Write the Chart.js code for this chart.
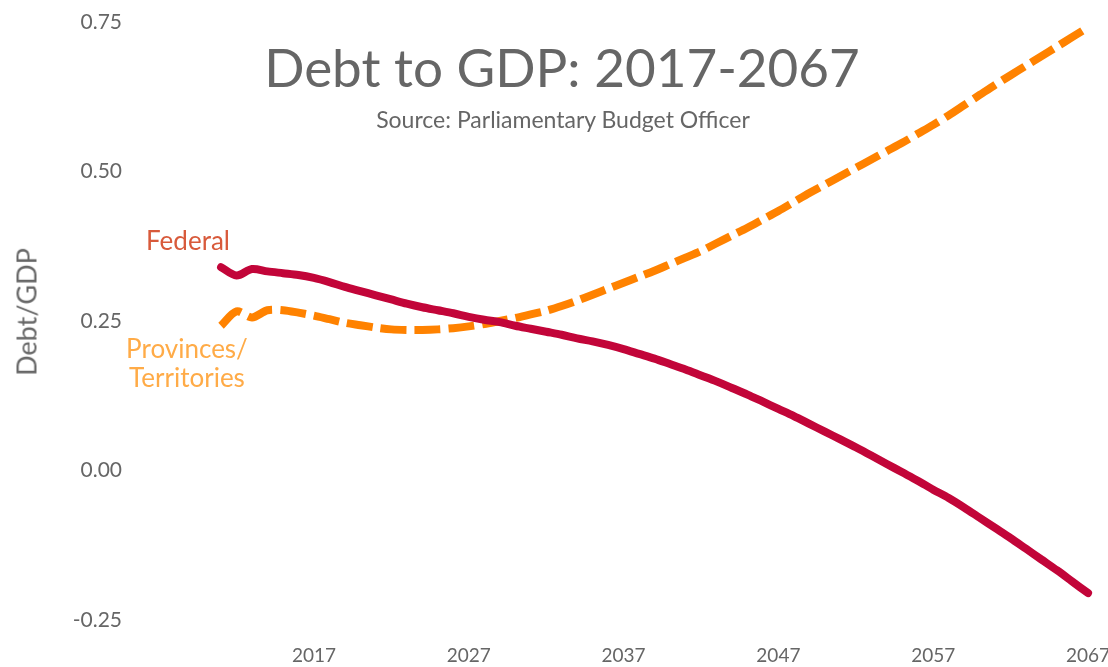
<!DOCTYPE html>
<html>
<head>
<meta charset="utf-8">
<script src="https://cdn.jsdelivr.net/npm/chart.js@4.4.1/dist/chart.umd.min.js"></script>
<style>
  html, body { margin:0; padding:0; background:#fff; }
  #wrap { position:relative; width:1108px; height:667px; font-family:Lato, 'Open Sans', sans-serif; }
  #wrap canvas { position:absolute; left:0; top:0; }
  .lbl { position:absolute; white-space:nowrap; transform:translate(-50%, -50%); line-height:1; }
  #title    { left:562px; top:66px;  font-size:53px; color:#666; }
  #subtitle { left:563px; top:119px; font-size:23px; color:#666; }
  #fedLbl   { left:188px; top:240px; font-size:26px; color:#d85a3b; }
  #provLbl  { left:187px; top:363px; font-size:26px; color:#ffab47; text-align:center; line-height:29px; }
  #yTitle   { left:26px;  top:312px; font-size:27px; color:#666; transform:translate(-50%, -50%) rotate(-90deg); }
</style>
</head>
<body>
<div id="wrap">
  <canvas id="chart" width="1108" height="667"></canvas>
  <div class="lbl" id="title">Debt to GDP: 2017-2067</div>
  <div class="lbl" id="subtitle">Source: Parliamentary Budget Officer</div>
  <div class="lbl" id="fedLbl">Federal</div>
  <div class="lbl" id="provLbl">Provinces/<br>Territories</div>
  <div class="lbl" id="yTitle">Debt/GDP</div>
</div>
<script>
'use strict';

// ── data (debt/GDP per tahun 2011–2067)
const years = [];
for (let y = 2011; y <= 2067; y++) years.push(y);

const federal = [
  0.340, 0.326, 0.337, 0.333, 0.330, 0.327, 0.322, 0.315, 0.307, 0.300,
  0.293, 0.286, 0.279, 0.273, 0.268, 0.263, 0.257, 0.252, 0.248, 0.242,
  0.237, 0.232, 0.227, 0.221, 0.216, 0.210, 0.203, 0.195, 0.187, 0.178,
  0.169, 0.159, 0.149, 0.138, 0.127, 0.115, 0.103, 0.091, 0.078, 0.065,
  0.052, 0.039, 0.025, 0.011, -0.003, -0.017, -0.032, -0.046, -0.062, -0.079,
  -0.096, -0.113, -0.131, -0.149, -0.167, -0.186, -0.205
];

const provinces = [
  0.242, 0.266, 0.256, 0.268, 0.268, 0.264, 0.259, 0.253, 0.247, 0.243,
  0.239, 0.236, 0.235, 0.235, 0.236, 0.238, 0.241, 0.245, 0.250, 0.255,
  0.261, 0.267, 0.275, 0.284, 0.294, 0.304, 0.314, 0.324, 0.334, 0.345,
  0.356, 0.367, 0.380, 0.393, 0.406, 0.420, 0.434, 0.449, 0.464, 0.478,
  0.492, 0.506, 0.520, 0.534, 0.548, 0.563, 0.578, 0.594, 0.611, 0.628,
  0.645, 0.661, 0.677, 0.693, 0.709, 0.725, 0.741
];

const xTicks = [2017, 2027, 2037, 2047, 2057, 2067];
const yTicks = [-0.25, 0, 0.25, 0.5, 0.75];

const toPts = arr => arr.map((v, i) => ({ x: years[i], y: v }));
const FONT = "Lato, 'Open Sans', sans-serif";
const GREY = '#666';

new Chart(document.getElementById('chart'), {
  type: 'line',
  data: {
    datasets: [
      { label:'Federal', data:toPts(federal), borderColor:'#c20539', borderWidth:8,
        borderCapStyle:'round', borderJoinStyle:'round', pointRadius:0, tension:0.3, fill:false },
      { label:'Provinces/Territories', data:toPts(provinces), borderColor:'#ff8200', borderWidth:8,
        borderDash:[26, 8], borderCapStyle:'butt', pointRadius:0, tension:0.3, fill:false },
    ]
  },
  options: {
    responsive:false, animation:false, maintainAspectRatio:false,
    layout:{ padding:{ left:8, right:0, top:4, bottom:0 } },
    plugins:{ legend:{ display:false }, tooltip:{ enabled:false } },
    scales:{
      x:{
        type:'linear', min:2005.12, max:2068.29,
        grid:{ display:false, drawTicks:false }, border:{ display:false },
        afterBuildTicks: s => { s.ticks = xTicks.map(v => ({ value:v })); },
        afterFit: s => { s.height = 29; s.paddingLeft = 0; s.paddingRight = 0; },
        ticks:{ padding:6, color:GREY, font:{ family:FONT, size:19 }, callback: v => String(v) },
      },
      y:{
        type:'linear', min:-0.2801, max:0.7801,
        grid:{ display:false, drawTicks:false }, border:{ display:false },
        afterBuildTicks: s => { s.ticks = yTicks.map(v => ({ value:v })); },
        afterFit: s => { s.width = 122; s.paddingTop = 0; s.paddingBottom = 0; },
        ticks:{ padding:8, color:GREY, font:{ family:FONT, size:21 }, callback: v => v.toFixed(2) },
      }
    }
  }
});
</script>
</body>
</html>
